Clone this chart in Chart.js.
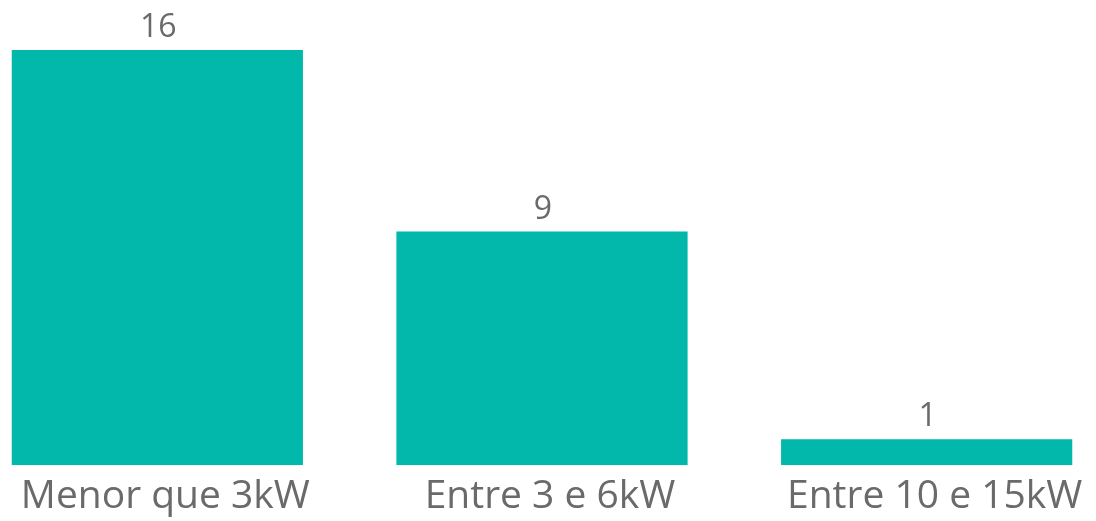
<!DOCTYPE html>
<html>
<head>
<meta charset="utf-8">
<script src="https://cdn.jsdelivr.net/npm/chart.js@4"></script>
<style>
  html, body { margin: 0; padding: 0; background: #ffffff; overflow: hidden; width: 1096px; height: 521px; }
  #wrap { position: absolute; left: -35px; top: 0; width: 1154px; height: 521px; }
</style>
</head>
<body>
<div id="wrap"><canvas id="c" width="1154" height="521"></canvas></div>
<script>
const categories = ["Menor que 3kW", "Entre 3 e 6kW", "Entre 10 e 15kW"];
const values = [16, 9, 1];

const barColor = "#01B8AA";
const textColor = "#6a6a6a";
const fontFamily = "'Open Sans', 'Noto Sans', sans-serif";

const valueLabels = {
  id: "valueLabels",
  afterDatasetsDraw(chart) {
    const ctx = chart.ctx;
    const meta = chart.getDatasetMeta(0);
    ctx.save();
    ctx.fillStyle = textColor;
    ctx.font = "32px " + fontFamily;
    ctx.textAlign = "center";
    ctx.textBaseline = "alphabetic";
    meta.data.forEach((bar, i) => {
      ctx.fillText(String(values[i]), bar.x + 1, bar.y - 13);
    });
    ctx.restore();
  }
};

new Chart(document.getElementById("c"), {
  type: "bar",
  data: {
    labels: categories,
    datasets: [{
      data: values,
      backgroundColor: barColor,
      borderWidth: 0,
      categoryPercentage: 1.0,
      barPercentage: 0.757
    }]
  },
  options: {
    responsive: false,
    animation: false,
    layout: { padding: { top: 11, bottom: -7, left: 0, right: 0 } },
    plugins: { legend: { display: false }, tooltip: { enabled: false } },
    scales: {
      x: {
        grid: { display: false, drawTicks: false },
        border: { display: false },
        ticks: {
          color: textColor,
          font: { family: fontFamily, size: 39 },
          padding: 8,
          labelOffset: 8,
          maxRotation: 0,
          autoSkip: false
        }
      },
      y: {
        display: false,
        min: 0,
        max: 17.5
      }
    }
  },
  plugins: [valueLabels]
});
</script>
</body>
</html>
